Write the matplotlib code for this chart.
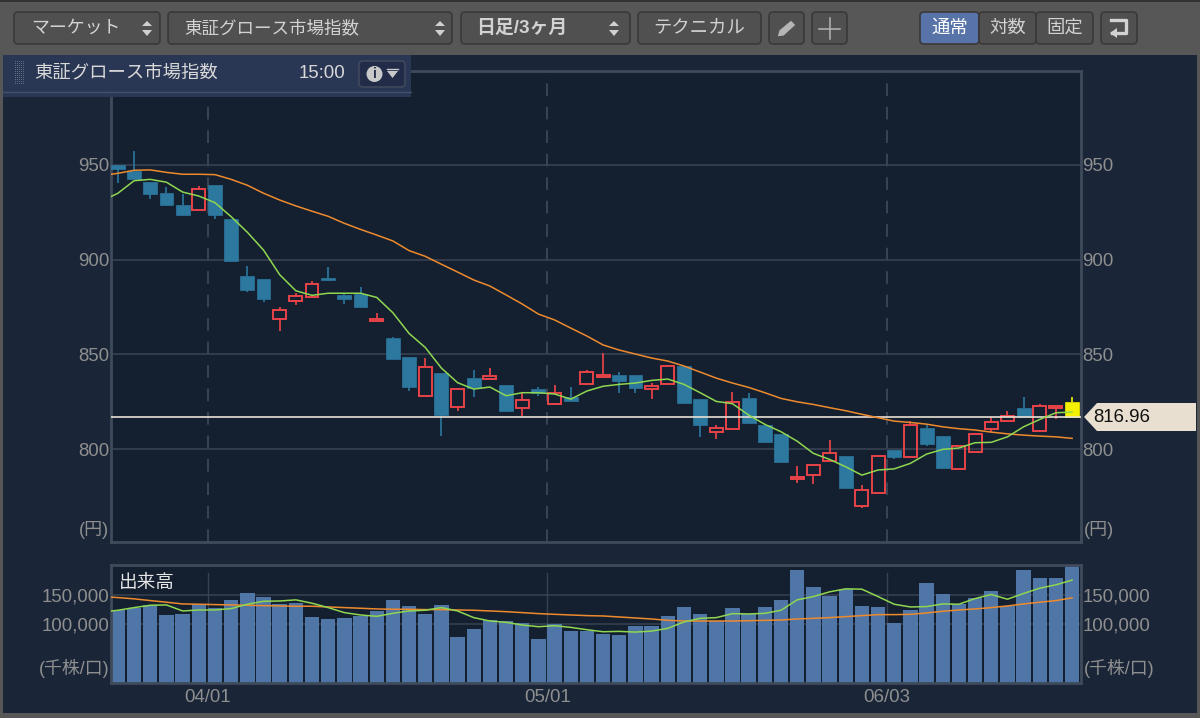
import matplotlib
matplotlib.use("Agg")
import matplotlib.pyplot as plt
from matplotlib.patches import FancyBboxPatch, Polygon, Rectangle, Circle

plt.rcParams['font.family'] = ['Liberation Sans', 'Noto Sans CJK JP', 'DejaVu Sans']

# candles
opens = [949.8, 946.8, 941.2, 935.4, 928.7, 926.2, 939.3, 921.6, 891.4, 889.7,
         868.7, 878.0, 880.3, 890.2, 881.2, 881.9, 867.8, 858.8, 848.6, 827.9,
         840.0, 822.2, 837.7, 837.2, 833.7, 821.7, 831.6, 823.8, 827.3, 834.2,
         838.1, 839.3, 839.3, 831.6, 834.2, 843.9, 826.3, 808.8, 810.5, 826.8,
         812.9, 807.8, 784.0, 786.5, 793.9, 796.2, 770.1, 776.7, 799.7, 795.7,
         811.0, 806.8, 789.6, 798.6, 810.5, 814.7, 821.7, 809.6, 821.9, 825.0]
closes = [947.9, 942.6, 934.7, 929.0, 923.8, 937.5, 923.8, 899.5, 883.8, 879.1,
          873.3, 881.0, 887.2, 889.3, 879.1, 875.0, 868.5, 847.4, 832.6, 843.2,
          818.0, 831.9, 832.1, 838.4, 820.1, 826.1, 829.5, 829.5, 825.2, 840.9,
          839.3, 835.9, 832.3, 833.5, 844.0, 824.5, 812.7, 811.1, 824.7, 813.9,
          803.7, 793.3, 785.4, 791.6, 798.1, 779.3, 778.2, 796.5, 795.7, 812.7,
          802.5, 790.2, 801.6, 807.8, 814.3, 817.5, 817.1, 822.9, 822.8, 816.96]
highs = [949.8, 957.4, 941.2, 938.4, 934.7, 938.8, 939.3, 921.6, 896.7, 889.7,
         874.9, 882.3, 888.6, 896.3, 882.4, 885.7, 872.0, 859.3, 848.6, 848.0,
         840.0, 831.9, 841.8, 843.0, 833.7, 829.5, 833.0, 833.7, 832.6, 841.8,
         850.6, 840.9, 839.3, 834.8, 844.0, 843.9, 826.3, 812.6, 830.1, 829.5,
         812.9, 807.8, 791.1, 791.6, 804.8, 796.2, 780.9, 796.5, 799.7, 815.0,
         812.7, 806.8, 801.6, 807.8, 816.8, 820.0, 827.3, 823.8, 822.8, 827.7]
lows = [940.5, 942.6, 932.2, 929.0, 923.8, 926.2, 921.6, 899.5, 883.0, 877.7,
        862.2, 876.1, 880.3, 888.6, 876.8, 875.0, 867.8, 847.4, 830.9, 827.9,
        806.9, 820.3, 827.3, 837.2, 820.1, 817.5, 828.0, 823.1, 825.2, 834.2,
        837.4, 829.8, 829.5, 826.6, 834.2, 824.5, 806.5, 805.5, 810.5, 813.9,
        803.7, 793.3, 782.3, 781.7, 793.9, 779.3, 768.8, 776.7, 794.6, 795.7,
        801.8, 790.2, 789.6, 798.6, 809.2, 814.7, 817.1, 809.6, 815.9, 816.96]

# first value of each average is where the line enters at the left edge
ma_short = [933.3, 935.1, 941.7, 942.4, 940.9, 935.7, 933.6, 930.1, 922.7, 914.5, 905.1,
            892.1, 883.6, 881.2, 882.3, 882.3, 882.3, 880.1, 872.0, 861.1, 853.7,
            842.8, 835.1, 831.7, 832.8, 828.2, 829.8, 829.8, 829.1, 826.4, 830.7,
            833.2, 834.2, 834.9, 836.3, 837.0, 834.2, 829.8, 825.2, 824.0, 818.0,
            813.1, 809.2, 804.2, 797.8, 794.6, 790.7, 786.3, 789.0, 789.6, 792.5,
            797.4, 799.9, 800.6, 803.4, 803.6, 806.5, 811.8, 815.7, 819.2, 819.6]
ma_long = [945.1, 945.6, 947.2, 947.4, 946.1, 945.1, 945.1, 944.9, 942.4, 939.3, 935.1,
           931.5, 928.4, 925.6, 922.9, 919.2, 916.0, 913.0, 909.9, 904.8, 901.8,
           897.6, 893.5, 889.3, 886.1, 881.4, 876.6, 871.3, 868.2, 863.9, 859.7,
           855.0, 852.3, 850.2, 848.1, 846.5, 843.9, 840.7, 837.5, 834.9, 832.6,
           829.8, 826.8, 825.0, 823.6, 821.9, 820.3, 818.4, 816.6, 814.8, 814.1,
           813.2, 811.8, 810.8, 810.1, 809.0, 808.1, 807.4, 806.9, 806.5, 805.7]

# volume
volume = [123300, 127800, 132300, 115300, 116400, 133500, 127800, 140300, 151700, 145400,
          133500, 135200, 111300, 108500, 110200, 113600, 122100, 141400, 130600, 116400,
          132300, 78400, 91400, 107400, 105600, 101700, 74400, 100500, 88600, 88600,
          83500, 81200, 97100, 97100, 114200, 128900, 116400, 105100, 127200, 116400,
          129500, 141400, 191400, 161900, 148200, 159600, 131200, 129500, 101100, 124400,
          168700, 150500, 134600, 144800, 155600, 130600, 191400, 178400, 178400, 197700]
vol_short = [122000, 123300, 127800, 131800, 132300, 122100, 123800, 123800, 126100, 133500, 138500,
             139000, 140900, 135200, 127800, 119300, 115300, 113000, 118100, 122100, 123300,
             127800, 122100, 110800, 105100, 102800, 98300, 95400, 97100, 94300, 90300,
             86900, 87500, 86300, 88000, 92600, 103400, 109600, 110800, 117600, 117000,
             118100, 123300, 140900, 146500, 154500, 159600, 159000, 146500, 133500, 128900,
             129500, 134000, 133500, 143100, 150000, 142000, 151700, 160700, 166400, 174400]
vol_long = [145500, 144800, 142600, 139700, 136900, 134000, 133500, 132900, 132300, 131800, 131200,
            130600, 130100, 130100, 128900, 127800, 126700, 125500, 125000, 125000, 124400,
            124400, 123800, 123300, 122100, 120900, 119300, 117600, 116400, 115300, 114200,
            113600, 111900, 110200, 108500, 106200, 105100, 105100, 105100, 105100, 105600,
            106200, 106800, 108500, 109600, 110800, 112500, 114200, 115900, 115900, 116400,
            118700, 121600, 123800, 125500, 127800, 130600, 134000, 136900, 139700, 144300]

date_idx = [6, 27, 48]
date_labels = ["04/01", "05/01", "06/03"]
price_ticks = [800, 850, 900, 950]
vol_ticks = [100000, 150000]
last_price = 816.96

W, H = 1200, 718
TICK = "#8f8f8f"
GRID = "#374151"
BLUE = "#2c789f"
RED = "#f04549"
GREEN = "#8fd651"
ORANGE = "#ee8a2e"
LEFT = -0.43
RIGHT = 59.55
xs = list(range(len(opens)))
line_xs = [LEFT] + xs

fig = plt.figure(figsize=(W / 100, H / 100), dpi=100, facecolor="#575757")


def px_axes(x0, y0, x1, y1):
    return fig.add_axes([x0 / W, 1 - y1 / H, (x1 - x0) / W, (y1 - y0) / H])


# chrome behind the charts, in pixel coordinates
bg = fig.add_axes([0, 0, 1, 1], zorder=0)
bg.set_xlim(0, W)
bg.set_ylim(H, 0)
bg.axis("off")
bg.add_patch(Rectangle((3, 55), 1194, 658, fc="#1a2638", ec="none"))
bg.add_patch(Rectangle((0, 0), W, 1.5, fc="#333333", ec="none"))


def button(x0, x1, label=None, fc="#505050", weight="normal", size=13.2, cx=None, color="#d2d2d2"):
    bg.add_patch(FancyBboxPatch((x0 + 2, 14), x1 - x0 - 4, 28, boxstyle="round,pad=2,rounding_size=4",
                                fc=fc, ec="#393939", lw=1.2))
    if label:
        bg.text(cx if cx else (x0 + x1) / 2, 28, label, color=color, fontsize=size, ha="center",
                va="center", weight=weight)


def spinner(x):
    bg.add_patch(Polygon([(x - 5, 26), (x + 5, 26), (x, 21)], fc="#d0d0d0", ec="none"))
    bg.add_patch(Polygon([(x - 5, 30), (x + 5, 30), (x, 36)], fc="#d0d0d0", ec="none"))


button(14, 160, "マーケット", cx=76, size=12.9)
spinner(147)
button(168, 452, "東証グロース市場指数", cx=272, size=12.6)
spinner(440)
button(461, 630, "日足/3ヶ月", weight="bold", cx=522, size=13.6)
spinner(614)
button(638, 761, "テクニカル")
button(769, 804)
bg.add_patch(Polygon([(777, 37), (779, 30), (791, 20), (796, 25), (784, 36)], fc="#b5b5b5", ec="#505050", lw=0.8))
button(812, 847)
bg.plot([829.5, 829.5], [18, 39], color="#b5b5b5", lw=1.1)
bg.plot([819, 840], [28.5, 28.5], color="#b5b5b5", lw=1.1)
button(920, 979, "通常", fc="#5873a8", color="#ffffff")
button(979, 1036, "対数")
button(1036, 1093, "固定")
button(1101, 1137)
bg.plot([1111, 1126, 1126, 1112], [20, 20, 33, 33], color="#d2d2d2", lw=2.4)
bg.add_patch(Polygon([(1110, 33), (1117, 28), (1117, 38)], fc="#d2d2d2", ec="none"))

# price panel
ax = px_axes(111, 71, 1081, 542)
ax.set_facecolor("#14202f")
ax.set_xlim(LEFT, RIGHT)
ax.set_ylim(751, 999.6)
for s in ax.spines.values():
    s.set_color("#3f4a5a")
    s.set_linewidth(2)
ax.grid(axis="y", color=GRID, lw=1.2, zorder=0)
for d in date_idx:
    ax.axvline(d - 0.44, color="#3c4656", lw=1.3, ls=(0, (7, 6)), zorder=0)

for i in xs:
    up = closes[i] > opens[i]
    last = i == len(xs) - 1
    col = "#f4f000" if last else (RED if up else BLUE)
    top = max(opens[i], closes[i])
    bottom = min(opens[i], closes[i])
    ax.plot([i, i], [top, highs[i]], color=col, lw=1.2, zorder=2, solid_capstyle="butt")
    ax.plot([i, i], [lows[i], bottom], color=col, lw=1.2, zorder=2, solid_capstyle="butt")
    if up:
        ax.bar(i, top - bottom, bottom=bottom, width=0.8, facecolor="none", edgecolor=col, lw=1.35, zorder=3)
    else:
        ax.bar(i, top - bottom, bottom=bottom, width=0.86, color=col, edgecolor=col, lw=0.5, zorder=3)

ax.axhline(last_price, color="#e9e2d4", lw=1.2, zorder=4)
ax.plot(line_xs, ma_long, color=ORANGE, lw=1.1, zorder=5)
ax.plot(line_xs, ma_short, color=GREEN, lw=1.1, zorder=5)

ax.set_xticks([])
ax.set_yticks(price_ticks)
ax.tick_params(axis="y", length=0, pad=1, labelsize=13.4, labelcolor=TICK, labelleft=True, labelright=True)

# volume panel
ax2 = px_axes(111, 565, 1081, 683)
ax2.set_facecolor("#14202f")
ax2.set_xlim(LEFT, RIGHT)
ax2.set_ylim(0, 200000)
for s in ax2.spines.values():
    s.set_color("#3f4a5a")
    s.set_linewidth(2)
ax2.grid(axis="y", color=GRID, lw=1.1, zorder=0)
for d in date_idx:
    ax2.plot([d - 0.44, d - 0.44], [0, 187000], color="#374151", lw=1, zorder=1)
ax2.bar(xs, volume, width=0.89, color="#4f76a6", zorder=2)
ax2.plot(line_xs, vol_long, color=ORANGE, lw=1.1, zorder=3)
ax2.plot(line_xs, vol_short, color=GREEN, lw=1.1, zorder=3)
ax2.set_yticks(vol_ticks)
ax2.set_yticklabels([f"{v:,}" for v in vol_ticks])
ax2.set_xticks([d - 0.44 for d in date_idx])
ax2.set_xticklabels(date_labels)
ax2.tick_params(axis="y", length=0, pad=1, labelsize=13.4, labelcolor=TICK, labelleft=True, labelright=True)
ax2.tick_params(axis="x", length=0, pad=4, labelsize=13.4, labelcolor=TICK)

# overlay: title bar, price flag, unit labels
top = fig.add_axes([0, 0, 1, 1], zorder=10)
top.set_xlim(0, W)
top.set_ylim(H, 0)
top.axis("off")
top.patch.set_alpha(0)
top.add_patch(Rectangle((3, 55), 408, 42, fc="#2a3756", ec="none", alpha=0.96))
top.plot([3, 411], [92, 92], color="#46526c", lw=1)
for gx in range(15, 24, 2):
    for gy in range(61, 85, 2):
        top.add_patch(Rectangle((gx, gy), 1, 1, fc="#5f6a80", ec="none"))
top.text(34, 73, "東証グロース市場指数", color="#d8d8d8", fontsize=13.2, va="center")
top.text(345, 73, "15:00", color="#d8d8d8", fontsize=13.4, va="center", ha="right")
top.add_patch(FancyBboxPatch((360, 62), 44, 24, boxstyle="round,pad=1,rounding_size=4", fc="#222c48", ec="#454c5e", lw=1))
top.add_patch(Circle((374.5, 74), 8, fc="#c8c8c8", ec="none"))
top.text(374.5, 74, "i", color="#222c48", fontsize=10, ha="center", va="center", weight="bold")
top.add_patch(Polygon([(387, 71), (398, 71), (392.5, 78)], fc="#c8c8c8", ec="none"))
top.plot([387, 398], [68.5, 68.5], color="#c8c8c8", lw=1)

top.add_patch(Polygon([(1084, 417), (1097, 403), (1196, 403), (1196, 431), (1097, 431)], fc="#e9dfd0", ec="none"))
top.text(1093, 417, f"{last_price}", color="#111111", fontsize=13.4, va="center")

top.text(109, 530, "(円)", color=TICK, fontsize=13, ha="right", va="center")
top.text(1084, 530, "(円)", color=TICK, fontsize=13, ha="left", va="center")
top.text(109, 669, "(千株/口)", color=TICK, fontsize=12.9, ha="right", va="center")
top.text(1084, 669, "(千株/口)", color=TICK, fontsize=12.9, ha="left", va="center")
top.text(119, 583, "出来高", color="#e6e6e6", fontsize=13.4, va="center")

fig.savefig("out.png", dpi=100, facecolor=fig.get_facecolor())
